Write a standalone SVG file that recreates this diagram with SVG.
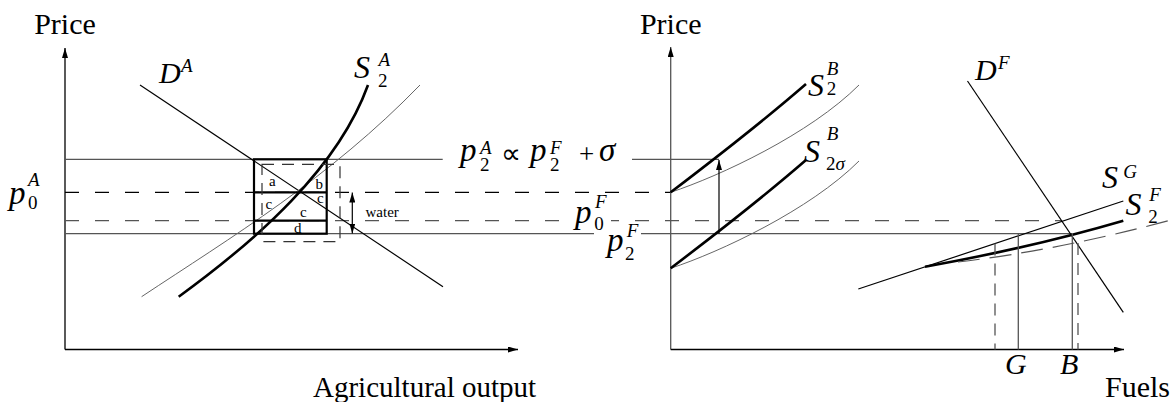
<svg xmlns="http://www.w3.org/2000/svg" width="1175" height="402" viewBox="0 0 1175 402">
<defs>
<marker id="ah" viewBox="0 0 10 6" refX="10" refY="3" markerWidth="10" markerHeight="6" markerUnits="userSpaceOnUse" orient="auto">
<path d="M0,0 L10,3 L0,6 Z" fill="#000"/>
</marker>
</defs>
<style>
text{font-family:"Liberation Serif","Times New Roman",serif;fill:#000}
.it{font-style:italic}
.lab{font-size:29px}
.big{font-size:33px;font-style:italic}
.sm{font-size:19px}
.tiny{font-size:15px}
.axis{stroke:#000;stroke-width:1.3;fill:none}
.gray{stroke:#555;stroke-width:1.3;fill:none}
.dashk{stroke:#000;stroke-width:1.3;stroke-dasharray:14 16;fill:none}
.dashg{stroke:#555;stroke-width:1.3;stroke-dasharray:14 16;fill:none}
.vdash{stroke:#555;stroke-width:1.3;stroke-dasharray:12 8;fill:none}
.thin{stroke:#666;stroke-width:1;fill:none}
.line{stroke:#000;stroke-width:1.2;fill:none}
.thick{stroke:#000;stroke-width:2.6;fill:none}
.box{stroke:#000;stroke-width:2.2;fill:none}
.dbox{stroke:#333;stroke-width:1.2;stroke-dasharray:12 8;fill:none}
.ldash{stroke:#555;stroke-width:1.2;stroke-dasharray:22 10;fill:none}
</style>

<g id="connectors">
<path class="axis" d="M65,349.5 V48" marker-end="url(#ah)"/>
<path class="axis" d="M65,349.5 H518" marker-end="url(#ah)"/>
<path class="gray" d="M670.7,349.5 V47" marker-end="url(#ah)"/>
<path class="axis" d="M670.7,349.5 H1124" marker-end="url(#ah)"/>

<path class="gray" d="M65,159.3 H442.7 M632,159.3 H719"/>
<path class="dashk" d="M65,192.3 H670.7"/>
<path class="dashg" d="M65,220.7 H1062"/>
<path class="gray" d="M65,233.7 H594 M641,233.7 H1072"/>

<path class="line" d="M140,85 L443,286.7"/>
<path class="thin" d="M141.6,296.7 C230,238 330,178 420,85"/>
<path class="thick" d="M178.7,296.7 C258,239 338,168 368,85"/>

<rect class="box" x="254" y="159.3" width="72.7" height="74.4"/>
<path class="box" d="M254,192.3 H326.7 M254,220.7 H326.7"/>
<rect class="dbox" x="262" y="164.3" width="78" height="77.4"/>

<path class="line" d="M352.3,213 V192.5" marker-end="url(#ah)"/>
<path class="line" d="M352.3,213 V233.5" marker-end="url(#ah)"/>

<path class="thin" d="M670.7,192.3 C720,176 810,134 859,85"/>
<path class="thin" d="M670.7,268.3 C720,252 810,210 859,161"/>
<path class="thick" d="M670.7,192.3 C700,170 760,124 806,84"/>
<path class="thick" d="M670.7,268.3 C700,246 760,200 806,160"/>
<path class="line" d="M719,233.7 V160" marker-end="url(#ah)"/>

<path class="line" d="M967.5,81 L1123.3,312.3"/>
<path class="line" d="M858.3,289 L1123.3,201"/>
<path class="thick" d="M925,266.7 Q1030,248 1123.3,220.7"/>
<path class="ldash" d="M958,262 Q1060,250 1175,219"/>
<path class="gray" d="M1018.3,234 V349.5"/>
<path class="gray" d="M1072.3,234 V349.5"/>
<path class="vdash" d="M995,243.5 V349.5"/>
<path class="vdash" d="M1078,243 V349.5"/>
</g>

<g id="axis-labels">
<text class="lab" x="65" y="34" text-anchor="middle" style="font-size:30px">Price</text>
<text class="lab" x="670.7" y="34" text-anchor="middle" style="font-size:30px">Price</text>
<text class="lab" x="313" y="397">Agricultural output</text>
<text class="lab" x="1105" y="397" style="font-size:30px">Fuels</text>
<text class="it" x="1005" y="374" style="font-size:30px">G</text>
<text class="it" x="1060" y="374" style="font-size:30px">B</text>
</g>

<g id="label-DA">
<text class="it" x="159" y="82.7" style="font-size:30px">D</text>
<text class="it sm" x="181" y="71.7">A</text>
</g>
<g id="label-S2A">
<text class="it" x="354" y="78.3" style="font-size:32px">S</text>
<text class="it sm" x="378.5" y="66">A</text>
<text class="sm" x="378" y="87.3">2</text>
</g>
<g id="label-S2B">
<text class="it" x="808" y="96" style="font-size:32px">S</text>
<text class="it sm" x="826.7" y="75">B</text>
<text class="sm" x="826.7" y="95">2</text>
</g>
<g id="label-S2sB">
<text class="it" x="804" y="161.7" style="font-size:32px">S</text>
<text class="it sm" x="826.7" y="140">B</text>
<text class="sm" x="826" y="170">2<tspan class="it">σ</tspan></text>
</g>
<g id="label-DF">
<text class="it" x="975" y="80" style="font-size:30px">D</text>
<text class="it sm" x="998" y="69">F</text>
</g>
<g id="label-SG">
<text class="it" x="1102" y="188.3" style="font-size:32px">S</text>
<text class="it sm" x="1123.3" y="178.3">G</text>
</g>
<g id="label-S2F">
<text class="it" x="1125.5" y="215" style="font-size:32px">S</text>
<text class="it sm" x="1149.3" y="200.7">F</text>
<text class="sm" x="1148.3" y="223.3">2</text>
</g>

<g id="label-p0A">
<text class="big" x="9" y="204">p</text>
<text class="it sm" x="28" y="186">A</text>
<text class="sm" x="28" y="209">0</text>
</g>
<g id="label-p2A-eq">
<text class="big" x="460" y="161">p</text>
<text class="it sm" x="480" y="153.5">A</text>
<text class="sm" x="480" y="171">2</text>
<text x="501" y="163" style="font-size:28px">∝</text>
<text class="big" x="530" y="161">p</text>
<text class="it sm" x="550" y="153.5">F</text>
<text class="sm" x="550" y="171">2</text>
<text x="579" y="163" style="font-size:27px">+</text>
<text class="big" x="599" y="161">σ</text>
</g>
<g id="label-p0F">
<rect x="573" y="214" width="38" height="14" fill="#fff"/>
<text class="big" x="575" y="222.5">p</text>
<text class="it sm" x="595" y="208.3">F</text>
<text class="sm" x="594.3" y="230">0</text>
</g>
<g id="label-p2F">
<text class="big" x="607" y="251">p</text>
<text class="it sm" x="626.7" y="237.3">F</text>
<text class="sm" x="625" y="260">2</text>
</g>

<g id="box-labels">
<text class="tiny" x="269" y="186">a</text>
<text class="tiny" x="315.5" y="189.3">b</text>
<text class="tiny" x="317" y="202.7">c</text>
<text class="tiny" x="265.5" y="209">c</text>
<text class="tiny" x="300" y="217.3">c</text>
<text class="tiny" x="294" y="233.3">d</text>
<text class="tiny" x="365.5" y="217.3">water</text>
</g>
</svg>
